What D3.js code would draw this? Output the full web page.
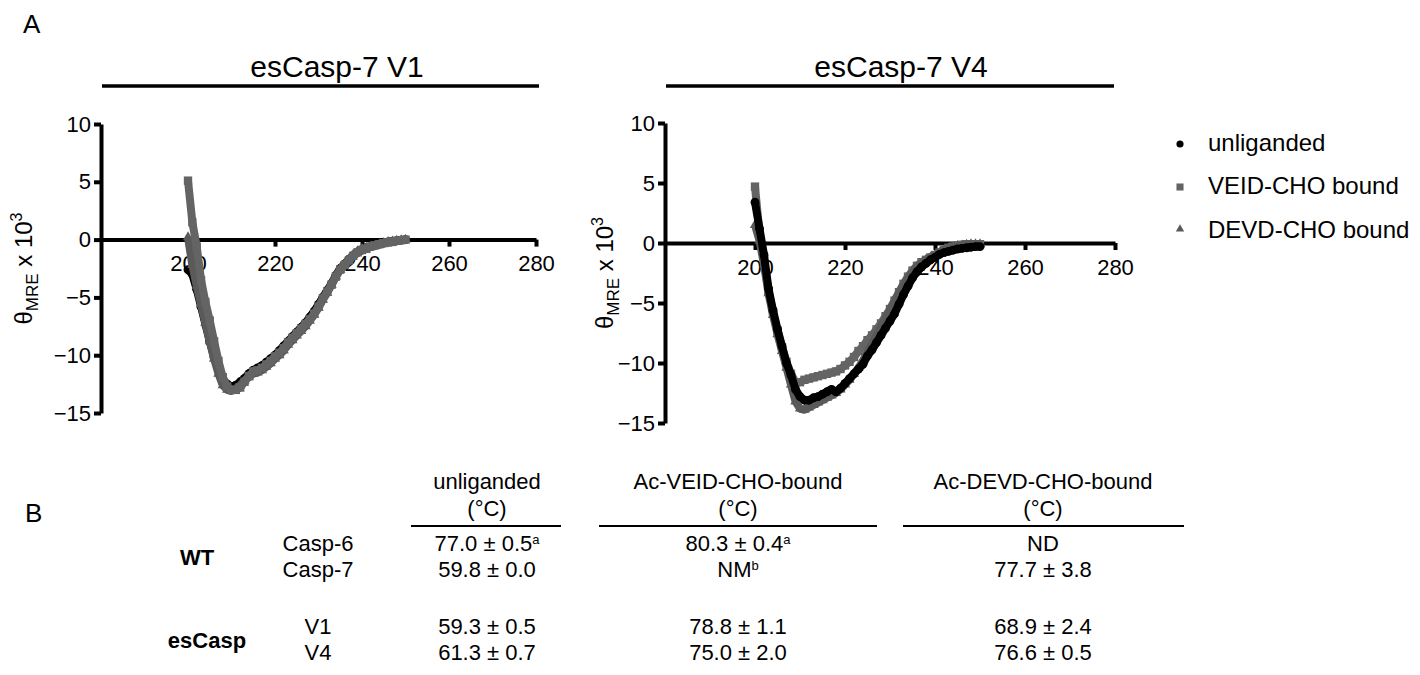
<!DOCTYPE html>
<html>
<head>
<meta charset="utf-8">
<script src="https://cdnjs.cloudflare.com/ajax/libs/d3/7.8.5/d3.min.js"></script>
<style>
  body { margin: 0; background: #fff; }
  svg text { font-family: "Liberation Sans", Arial, sans-serif; fill: #000; }
</style>
</head>
<body>
<div id="chart"></div>
<script>
// wavelength (nm) shared by every CD series
var wavelength = [200, 201, 202, 203, 204, 205, 206, 207, 208, 209,
                  210, 211, 212, 213, 214, 215, 216, 217, 218, 219,
                  220, 221, 222, 223, 224, 225, 226, 227, 228, 229,
                  230, 231, 232, 233, 234, 235, 236, 237, 238, 239,
                  240, 241, 242, 243, 244, 245, 246, 247, 248, 249, 250];

// esCasp-7 V1, theta MRE x 10^3
var v1Unliganded = [-2.6, -3.0, -4.3, -5.8, -7.3, -8.8, -10.2, -11.3, -12.1, -12.5,
                    -12.7, -12.6, -12.3, -12.0, -11.6, -11.3, -11.1, -10.9, -10.6, -10.3,
                    -10.0, -9.6, -9.2, -8.8, -8.4, -8.0, -7.6, -7.2, -6.7, -6.2,
                    -5.6, -5.0, -4.4, -3.8, -3.1, -2.5, -2.1, -1.7, -1.4, -1.1,
                    -0.9, -0.7, -0.6, -0.5, -0.4, -0.3, -0.2, -0.15, -0.1, -0.05, 0.0];
var v1Veid = [5.1, 1.5, -0.6, -3.5, -5.4, -7.0, -8.8, -10.5, -11.9, -12.7,
              -13.0, -13.0, -12.8, -12.3, -11.8, -11.4, -11.3, -11.1, -10.8, -10.5,
              -10.1, -9.8, -9.4, -8.9, -8.5, -8.1, -7.7, -7.3, -6.9, -6.4,
              -5.8, -5.1, -4.5, -3.9, -3.2, -2.6, -2.2, -1.8, -1.4, -1.1,
              -0.9, -0.8, -0.6, -0.5, -0.4, -0.3, -0.25, -0.2, -0.1, -0.05, 0.0];
var v1Devd = [0.2, -2.2, -4.0, -5.6, -7.2, -8.8, -10.3, -11.6, -12.6, -13.0,
              -13.1, -12.9, -12.6, -12.2, -11.9, -11.6, -11.5, -11.3, -11.0, -10.7,
              -10.3, -10.0, -9.6, -9.1, -8.7, -8.3, -7.9, -7.5, -7.0, -6.5,
              -5.9, -5.2, -4.6, -3.9, -3.2, -2.6, -2.1, -1.7, -1.3, -1.0,
              -0.8, -0.7, -0.6, -0.5, -0.4, -0.3, -0.2, -0.15, -0.1, -0.05, 0.0];

// esCasp-7 V4
var v4Unliganded = [3.4, 1.2, -1.0, -3.8, -5.6, -7.2, -8.6, -10.0, -11.0, -12.2,
                    -12.8, -13.1, -13.1, -12.9, -12.8, -12.6, -12.4, -12.2, -12.4, -12.1,
                    -11.7, -11.3, -10.9, -10.5, -10.1, -9.4, -8.9, -8.3, -7.7, -7.1,
                    -6.5, -5.9, -5.1, -4.3, -3.6, -2.9, -2.4, -2.0, -1.7, -1.4,
                    -1.2, -0.95, -0.8, -0.7, -0.6, -0.5, -0.45, -0.4, -0.35, -0.3, -0.3];
var v4Veid = [4.7, 0.8, -1.5, -4.0, -5.8, -7.3, -8.7, -9.9, -10.9, -11.6,
              -11.6, -11.4, -11.3, -11.2, -11.1, -11.0, -10.9, -10.8, -10.7, -10.5,
              -10.2, -9.9, -9.5, -9.0, -8.6, -8.1, -7.7, -7.2, -6.7, -6.1,
              -5.5, -4.8, -4.1, -3.4, -2.8, -2.3, -1.9, -1.6, -1.4, -1.2,
              -1.0, -0.8, -0.6, -0.4, -0.3, -0.2, -0.15, -0.1, -0.1, -0.1, -0.1];
var v4Devd = [1.5, 0.2, -1.8, -4.2, -6.0, -7.6, -9.0, -10.4, -11.8, -13.2,
              -13.8, -13.9, -13.7, -13.5, -13.3, -13.1, -12.9, -12.7, -12.5, -12.2,
              -11.8, -11.4, -10.9, -10.4, -9.8, -9.1, -8.4, -7.7, -7.0, -6.3,
              -5.6, -4.9, -4.2, -3.5, -2.9, -2.4, -2.0, -1.7, -1.4, -1.2,
              -1.0, -0.8, -0.6, -0.45, -0.35, -0.25, -0.2, -0.15, -0.1, -0.1, -0.1];

var xTicks = [200, 220, 240, 260, 280];
var yTicks = [-15, -10, -5, 0, 5, 10];
var seriesNames = ["unliganded", "VEID-CHO bound", "DEVD-CHO bound"];

// table (panel B)
var tableColumns = ["unliganded", "Ac-VEID-CHO-bound", "Ac-DEVD-CHO-bound"];
var tableGroups = ["WT", "esCasp"];
var tableRows = ["Casp-6", "Casp-7", "V1", "V4"];
var casp6Tm = ["77.0 ± 0.5", "80.3 ± 0.4", "ND"];
var casp6Note = ["a", "a", ""];
var casp7Tm = ["59.8 ± 0.0", "NM", "77.7 ± 3.8"];
var casp7Note = ["", "b", ""];
var v1Tm = ["59.3 ± 0.5", "78.8 ± 1.1", "68.9 ± 2.4"];
var v4Tm = ["61.3 ± 0.7", "75.0 ± 2.0", "76.6 ± 0.5"];

var W = 1420, H = 675;
var svg = d3.select("#chart").append("svg")
    .attr("width", W)
    .attr("height", H);

var styles = {
    "unliganded": { symbol: d3.symbolCircle, size: 62, color: "#000" },
    "VEID-CHO bound": { symbol: d3.symbolSquare, size: 70, color: "#646464" },
    "DEVD-CHO bound": { symbol: d3.symbolTriangle, size: 46, color: "#5a5a5a" }
};

var panels = [
    { title: "esCasp-7 V1", xr: [101, 536], yr: [413, 124], titleX: 337, line: [102, 539], labelX: 32,
      order: [["unliganded", v1Unliganded], ["DEVD-CHO bound", v1Devd], ["VEID-CHO bound", v1Veid]] },
    { title: "esCasp-7 V4", xr: [665, 1115], yr: [423, 123], titleX: 901, line: [666, 1114], labelX: 613,
      order: [["VEID-CHO bound", v4Veid], ["DEVD-CHO bound", v4Devd], ["unliganded", v4Unliganded]] }
];

svg.append("text").attr("x", 23).attr("y", 33).style("font-size", "26px").text("A");

panels.forEach(function (p) {
    var x = d3.scaleLinear().domain([180, 280]).range(p.xr);
    var y = d3.scaleLinear().domain([-15, 10]).range(p.yr);

    // title with rule underneath
    svg.append("text")
        .attr("x", p.titleX).attr("y", 77)
        .attr("text-anchor", "middle")
        .style("font-size", "30px")
        .text(p.title);
    svg.append("line")
        .attr("x1", p.line[0]).attr("x2", p.line[1])
        .attr("y1", 86).attr("y2", 86)
        .attr("stroke", "#000").attr("stroke-width", 3.5);

    var yAxis = d3.axisLeft(y).tickValues(yTicks).tickSize(7).tickPadding(3).tickSizeOuter(0);
    var xAxis = d3.axisBottom(x).tickValues(xTicks).tickSize(7).tickPadding(9).tickSizeOuter(0);

    var gy = svg.append("g")
        .attr("transform", "translate(" + p.xr[0] + ",0)")
        .call(yAxis);
    var gx = svg.append("g")
        .attr("transform", "translate(0," + y(0) + ")")
        .call(xAxis);

    [gx, gy].forEach(function (g) {
        g.select(".domain").attr("stroke-width", 4);
        g.selectAll(".tick line").attr("stroke-width", 4);
        g.selectAll(".tick text")
            .style("font-family", "'Liberation Sans', Arial, sans-serif")
            .style("font-size", "22px")
            .attr("fill", "#000");
    });

    // y label: theta_MRE x 10^3
    var lab = svg.append("text")
        .attr("transform", "translate(" + p.labelX + "," + ((p.yr[0] + p.yr[1]) / 2) + ") rotate(-90)")
        .attr("text-anchor", "middle")
        .style("font-size", "24px");
    lab.append("tspan").text("θ");
    lab.append("tspan").attr("dy", 6).style("font-size", "17px").text("MRE");
    lab.append("tspan").attr("dy", -6).text(" x 10");
    lab.append("tspan").attr("dy", -10).style("font-size", "16px").text("3");

    var line = d3.line()
        .x(function (d, i) { return x(wavelength[i]); })
        .y(function (d) { return y(d); });

    p.order.forEach(function (s) {
        var st = styles[s[0]];
        svg.append("path")
            .datum(s[1])
            .attr("d", line)
            .attr("fill", "none")
            .attr("stroke", st.color)
            .attr("stroke-width", 8)
            .attr("stroke-linejoin", "round");
        svg.append("g").selectAll("path")
            .data(s[1])
            .enter().append("path")
            .attr("transform", function (d, i) { return "translate(" + x(wavelength[i]) + "," + y(d) + ")"; })
            .attr("d", d3.symbol().type(st.symbol).size(st.size))
            .attr("fill", st.color);
    });
});

// legend
var legendY = [144, 187, 229];
var legendTextY = [151, 194, 238];
var legendSize = [40, 50, 30];
seriesNames.forEach(function (name, i) {
    var st = styles[name];
    svg.append("path")
        .attr("transform", "translate(1180," + legendY[i] + ")")
        .attr("d", d3.symbol().type(st.symbol).size(legendSize[i]))
        .attr("fill", st.color);
    svg.append("text")
        .attr("x", 1208).attr("y", legendTextY[i])
        .style("font-size", "24px")
        .text(name);
});

// panel B table
svg.append("text").attr("x", 25).attr("y", 522).style("font-size", "26px").text("B");

var colX = [487, 738, 1043];
var colLine = [[411, 561], [599, 877], [903, 1184]];
var rowY = [551, 577, 634, 660];
var groupY = [565, 648];
var groupX = [197, 207];
var fs = "22px";

tableColumns.forEach(function (c, i) {
    svg.append("text").attr("x", colX[i]).attr("y", 489)
        .attr("text-anchor", "middle").style("font-size", fs).text(c);
    svg.append("text").attr("x", colX[i]).attr("y", 516)
        .attr("text-anchor", "middle").style("font-size", fs).text("(°C)");
    svg.append("line")
        .attr("x1", colLine[i][0]).attr("x2", colLine[i][1])
        .attr("y1", 526).attr("y2", 526)
        .attr("stroke", "#000").attr("stroke-width", 2);
});

tableGroups.forEach(function (g, i) {
    svg.append("text").attr("x", groupX[i]).attr("y", groupY[i])
        .attr("text-anchor", "middle")
        .style("font-size", fs).style("font-weight", "bold").text(g);
});

tableRows.forEach(function (r, i) {
    svg.append("text").attr("x", 318).attr("y", rowY[i])
        .attr("text-anchor", "middle").style("font-size", fs).text(r);
});

var rowValues = [casp6Tm, casp7Tm, v1Tm, v4Tm];
var rowNotes = [casp6Note, casp7Note, ["", "", ""], ["", "", ""]];
rowValues.forEach(function (vals, r) {
    vals.forEach(function (v, c) {
        var t = svg.append("text").attr("x", colX[c]).attr("y", rowY[r])
            .attr("text-anchor", "middle").style("font-size", fs);
        t.append("tspan").text(v);
        if (rowNotes[r][c]) {
            t.append("tspan").attr("dy", -7).style("font-size", "13px").text(rowNotes[r][c]);
        }
    });
});
</script>
</body>
</html>
